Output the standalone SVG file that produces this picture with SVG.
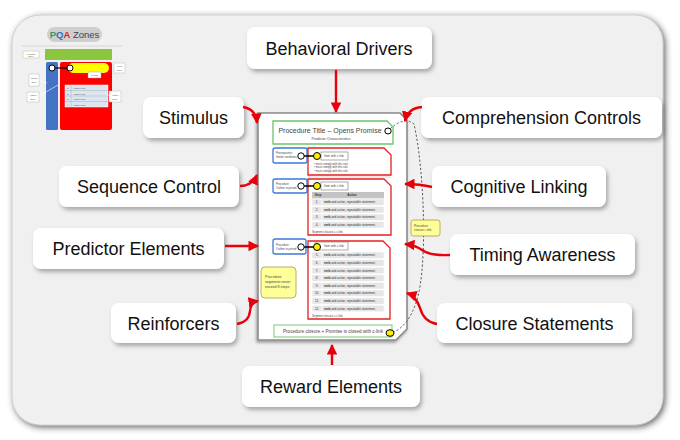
<svg xmlns="http://www.w3.org/2000/svg" width="680" height="440" viewBox="0 0 680 440">
<defs>
<filter id="panelShadow" x="-5%" y="-5%" width="110%" height="112%">
<feGaussianBlur in="SourceAlpha" stdDeviation="3"/>
<feOffset dx="2" dy="2" result="b"/>
<feFlood flood-color="#333" flood-opacity="0.75"/>
<feComposite in2="b" operator="in"/>
<feMerge><feMergeNode/><feMergeNode in="SourceGraphic"/></feMerge>
</filter>
<filter id="boxShadow" x="-10%" y="-20%" width="125%" height="150%">
<feDropShadow dx="2" dy="3" stdDeviation="2" flood-color="#000" flood-opacity="0.3"/>
</filter>
<filter id="docShadow" x="-5%" y="-5%" width="110%" height="110%">
<feDropShadow dx="-1" dy="2" stdDeviation="1.5" flood-color="#000" flood-opacity="0.35"/>
</filter>
<marker id="arrow" viewBox="0 0 10 10" refX="9" refY="5" markerWidth="4.4" markerHeight="4.4" orient="auto" markerUnits="strokeWidth">
<path d="M0,0 L10,5 L0,10 Z" fill="#e8000b"/>
</marker>
<style>
.lbl rect{fill:#fff;filter:url(#boxShadow)}
.lbl text{font-family:"Liberation Sans",Arial,sans-serif;font-size:18px;fill:#111;text-anchor:middle}
.arr{fill:none;stroke:#e8000b;stroke-width:2.4;marker-end:url(#arrow)}
.tiny{font-family:"Liberation Sans",Arial,sans-serif;fill:#444}
.row{fill:#e6e6e6;stroke:#fff;stroke-width:0.6}
.num{font-family:"Liberation Sans",Arial,sans-serif;font-size:3px;fill:#333;text-anchor:middle}
.act{font-family:"Liberation Sans",Arial,sans-serif;font-size:3px;fill:#333}
.red{fill:#fff;stroke:#e32020;stroke-width:1.3}
.blue{fill:#fff;stroke:#3c78d8;stroke-width:1.3}
.wc{fill:#fff;stroke:#000;stroke-width:1}
.yc{fill:#ffee00;stroke:#000;stroke-width:1}
.item{fill:#fff;stroke:#888;stroke-width:0.7}
.sticky{fill:#ffff99;stroke:#a89a40;stroke-width:0.8}
</style>
</defs>
<rect width="680" height="440" fill="#fff"/>
<rect id="panel" x="12" y="15" width="651" height="410" rx="28" fill="#f0f0f0" stroke="#c8c8c8" stroke-width="0.8" filter="url(#panelShadow)"/>

<!-- Thumbnail: PQA Zones -->
<g id="thumbnail">
<rect x="47" y="27" width="55" height="15" rx="7.5" fill="#cfcfcf"/>
<text x="74.5" y="38" font-family="Liberation Sans, Arial, sans-serif" font-size="9.5" text-anchor="middle" fill="#444"><tspan fill="#2e9e5a" font-weight="bold">P</tspan><tspan fill="#2f6fc0" font-weight="bold">Q</tspan><tspan fill="#e02020" font-weight="bold">A</tspan> Zones</text>
<line x1="22" y1="46" x2="122" y2="46" stroke="#d0d0d0" stroke-width="0.8"/>
<rect x="45" y="49" width="67" height="11" fill="#8cc63f"/>
<rect x="46" y="62" width="12" height="68" rx="1.5" fill="#4472c4"/>
<rect x="60" y="62" width="52" height="68" rx="2" fill="#ff0000"/>
<rect x="68" y="63" width="41" height="10" rx="5" fill="#ffff00"/>
<line x1="52" y1="68" x2="70" y2="68" stroke="#000" stroke-width="1.2"/>
<circle cx="52" cy="68" r="3" class="wc"/>
<circle cx="70" cy="68" r="3" class="wc"/>
<rect x="88" y="72" width="13" height="6" fill="#fff" stroke="#999" stroke-width="0.4"/>
<text x="94.5" y="76.3" class="tiny" font-size="2.4" text-anchor="middle">C-Link</text>
<g>
<rect x="65" y="85" width="43" height="22" fill="#dde6f0" stroke="#fff" stroke-width="0.5"/>
<line x1="65" y1="90.5" x2="108" y2="90.5" stroke="#8aa" stroke-width="0.4"/>
<line x1="65" y1="96" x2="108" y2="96" stroke="#8aa" stroke-width="0.4"/>
<line x1="65" y1="101.5" x2="108" y2="101.5" stroke="#8aa" stroke-width="0.4"/>
<line x1="71" y1="85" x2="71" y2="107" stroke="#8aa" stroke-width="0.4"/>
<text x="68" y="89" class="tiny" font-size="2.4" text-anchor="middle">1.</text>
<text x="68" y="94.5" class="tiny" font-size="2.4" text-anchor="middle">2.</text>
<text x="68" y="100" class="tiny" font-size="2.4" text-anchor="middle">3.</text>
<text x="68" y="105.5" class="tiny" font-size="2.4" text-anchor="middle">4.</text>
<text x="73" y="89" class="tiny" font-size="2.4">Action verb</text>
<text x="73" y="94.5" class="tiny" font-size="2.4">Action verb</text>
<text x="73" y="100" class="tiny" font-size="2.4">Action verb</text>
<text x="73" y="105.5" class="tiny" font-size="2.4">Action verb</text>
</g>
<line x1="39" y1="54" x2="45" y2="54" stroke="#fff" stroke-width="0.6"/>
<line x1="39" y1="80" x2="47" y2="83" stroke="#fff" stroke-width="0.6"/>
<line x1="39" y1="96" x2="58" y2="85" stroke="#fff" stroke-width="0.6"/>
<line x1="106" y1="94" x2="109" y2="96" stroke="#fff" stroke-width="0.6"/>
<rect x="23" y="51" width="16" height="7" fill="#fff" stroke="#aaa" stroke-width="0.4"/>
<text x="31" y="54.5" class="tiny" font-size="2.2" text-anchor="middle"><tspan fill="#2e9e5a">P</tspan>redictor</text>
<text x="31" y="57.2" class="tiny" font-size="2.2" text-anchor="middle">Zone</text>
<rect x="29" y="74" width="10" height="12" fill="#fff" stroke="#aaa" stroke-width="0.4"/>
<text x="34" y="79" class="tiny" font-size="2.2" text-anchor="middle"><tspan fill="#2f6fc0">O</tspan>pens</text>
<text x="34" y="83" class="tiny" font-size="2.2" text-anchor="middle">Zone</text>
<rect x="27" y="92" width="12" height="10" fill="#fff" stroke="#aaa" stroke-width="0.4"/>
<text x="33" y="96" class="tiny" font-size="2.2" text-anchor="middle"><tspan fill="#e02020">A</tspan>nswer</text>
<text x="33" y="100" class="tiny" font-size="2.2" text-anchor="middle">Zone</text>
<rect x="114" y="63" width="11" height="10" fill="#fff" stroke="#aaa" stroke-width="0.4"/>
<text x="119.5" y="67" class="tiny" font-size="2.2" text-anchor="middle"><tspan fill="#e07020">C</tspan>lose</text>
<text x="119.5" y="71" class="tiny" font-size="2.2" text-anchor="middle">Zone</text>
<rect x="109" y="91" width="12" height="11" fill="#fff" stroke="#aaa" stroke-width="0.4"/>
<text x="115" y="95.5" class="tiny" font-size="2.2" text-anchor="middle"><tspan fill="#2f9fe0">M</tspan>otion</text>
<text x="115" y="99.5" class="tiny" font-size="2.2" text-anchor="middle">Zone</text>
</g>

<!-- Procedure document -->
<g id="document">
<path d="M258,113 H400 L407,120 V329 L396,340 H258 Z" fill="#fff" stroke="#8a8a8a" stroke-width="1.6" filter="url(#docShadow)"/>
<path d="M273,121 H387 L393,127 V144 H273 Z" fill="#fff" stroke="#6cc46c" stroke-width="1.3"/>
<text x="330" y="133" class="tiny" font-size="7" text-anchor="middle" fill="#444">Procedure Title – Opens Promise</text>
<text x="331" y="140" class="tiny" font-size="3.6" text-anchor="middle" fill="#555">Predictor Characteristics</text>
<ellipse cx="388" cy="131" rx="3.2" ry="3" class="wc"/>

<!-- segment 1 -->
<rect x="273" y="148" width="34" height="15" rx="2" class="blue"/>
<text x="276" y="154" class="tiny" font-size="2.8">Prerequisites</text>
<text x="276" y="158" class="tiny" font-size="2.8">Intake conditions</text>
<path d="M308,148 H384 L391,155 V175 H308 Z" class="red"/>
<rect x="321" y="152" width="27" height="8" class="item"/>
<text x="324" y="157.3" class="tiny" font-size="3">Item with c-link</text>
<text x="314" y="164.5" class="tiny" font-size="2.8">•  must comply with this rule</text>
<text x="314" y="168" class="tiny" font-size="2.8">•  must comply with this rule</text>
<text x="314" y="171.5" class="tiny" font-size="2.8">•  must comply with this rule</text>
<line x1="304" y1="156" x2="314" y2="156" stroke="#000" stroke-width="1.5"/>
<circle cx="301" cy="156" r="3.2" class="wc"/>
<circle cx="317" cy="156" r="3.5" class="yc"/>
<line x1="308" y1="177" x2="391" y2="177" stroke="#bbb" stroke-width="0.6"/>

<!-- segment 2 -->
<rect x="273" y="179" width="34" height="14" rx="2" class="blue"/>
<text x="276" y="185" class="tiny" font-size="2.8">Procedure</text>
<text x="276" y="189" class="tiny" font-size="2.8">Outline in period</text>
<path d="M308,179 H384 L391,186 V235 H308 Z" class="red"/>
<rect x="321" y="182" width="27" height="8" class="item"/>
<text x="324" y="187.3" class="tiny" font-size="3">Item with c-link</text>
<line x1="304" y1="186" x2="314" y2="186" stroke="#000" stroke-width="1.5"/>
<circle cx="301" cy="186" r="3.2" class="wc"/>
<circle cx="317" cy="186" r="3.5" class="yc"/>
<rect x="312" y="192" width="72" height="6.5" fill="#c4c4c4"/>
<text x="318" y="196.4" class="num" font-weight="bold">Step</text>
<text x="352" y="196.4" class="num" font-weight="bold">Action</text>
<g>
<rect x="312" y="199" width="10" height="6.5" class="row"/><rect x="322" y="199" width="62" height="6.5" class="row"/>
<rect x="312" y="206.5" width="10" height="6.5" class="row"/><rect x="322" y="206.5" width="62" height="6.5" class="row"/>
<rect x="312" y="214" width="10" height="6.5" class="row"/><rect x="322" y="214" width="62" height="6.5" class="row"/>
<rect x="312" y="221.5" width="10" height="6.5" class="row"/><rect x="322" y="221.5" width="62" height="6.5" class="row"/>
<text x="317" y="203.3" class="num">1.</text><text x="324" y="203.3" class="act"><tspan font-weight="bold">verb</tspan> and action, repeatable statement.</text>
<text x="317" y="210.8" class="num">2.</text><text x="324" y="210.8" class="act"><tspan font-weight="bold">verb</tspan> and action, repeatable statement.</text>
<text x="317" y="218.3" class="num">3.</text><text x="324" y="218.3" class="act"><tspan font-weight="bold">verb</tspan> and action, repeatable statement.</text>
<text x="317" y="225.8" class="num">4.</text><text x="324" y="225.8" class="act"><tspan font-weight="bold">verb</tspan> and action, repeatable statement.</text>
</g>
<text x="312" y="233" class="tiny" font-size="2.8">Segment closure = c-link</text>

<!-- segment 3 -->
<rect x="273" y="239" width="33" height="15" rx="2" class="blue"/>
<text x="276" y="245.5" class="tiny" font-size="2.8">Procedure</text>
<text x="276" y="249.5" class="tiny" font-size="2.8">Outline in period</text>
<path d="M308,241 H383 L390,248 V319 H308 Z" class="red"/>
<rect x="315" y="242" width="33" height="8" class="item"/>
<text x="324" y="247.3" class="tiny" font-size="3">Item with c-link</text>
<line x1="304" y1="247" x2="314" y2="247" stroke="#000" stroke-width="1.5"/>
<circle cx="301" cy="247" r="3.2" class="wc"/>
<circle cx="317" cy="247" r="3.5" class="yc"/>
<g>
<rect x="312" y="252" width="10" height="6.6" class="row"/><rect x="322" y="252" width="62" height="6.6" class="row"/>
<rect x="312" y="259.6" width="10" height="6.6" class="row"/><rect x="322" y="259.6" width="62" height="6.6" class="row"/>
<rect x="312" y="267.2" width="10" height="6.6" class="row"/><rect x="322" y="267.2" width="62" height="6.6" class="row"/>
<rect x="312" y="274.8" width="10" height="6.6" class="row"/><rect x="322" y="274.8" width="62" height="6.6" class="row"/>
<rect x="312" y="282.4" width="10" height="6.6" class="row"/><rect x="322" y="282.4" width="62" height="6.6" class="row"/>
<rect x="312" y="290" width="10" height="6.6" class="row"/><rect x="322" y="290" width="62" height="6.6" class="row"/>
<rect x="312" y="297.6" width="10" height="6.6" class="row"/><rect x="322" y="297.6" width="62" height="6.6" class="row"/>
<rect x="312" y="305.2" width="10" height="6.6" class="row"/><rect x="322" y="305.2" width="62" height="6.6" class="row"/>
<text x="317" y="256.4" class="num">5.</text><text x="324" y="256.4" class="act"><tspan font-weight="bold">verb</tspan> and action, repeatable statement.</text>
<text x="317" y="264" class="num">6.</text><text x="324" y="264" class="act"><tspan font-weight="bold">verb</tspan> and action, repeatable statement.</text>
<text x="317" y="271.6" class="num">7.</text><text x="324" y="271.6" class="act"><tspan font-weight="bold">verb</tspan> and action, repeatable statement.</text>
<text x="317" y="279.2" class="num">8.</text><text x="324" y="279.2" class="act"><tspan font-weight="bold">verb</tspan> and action, repeatable statement.</text>
<text x="317" y="286.8" class="num">9.</text><text x="324" y="286.8" class="act"><tspan font-weight="bold">verb</tspan> and action, repeatable statement.</text>
<text x="317" y="294.4" class="num">10.</text><text x="324" y="294.4" class="act"><tspan font-weight="bold">verb</tspan> and action, repeatable statement.</text>
<text x="317" y="302" class="num">11.</text><text x="324" y="302" class="act"><tspan font-weight="bold">verb</tspan> and action, repeatable statement.</text>
<text x="317" y="309.6" class="num">12.</text><text x="324" y="309.6" class="act"><tspan font-weight="bold">verb</tspan> and action, repeatable statement.</text>
</g>
<text x="312" y="317" class="tiny" font-size="2.8">Segment closure = c-link</text>

<rect x="261" y="267" width="35" height="31" rx="4" class="sticky"/>
<text x="265" y="278" class="tiny" font-size="3.6" fill="#333">Procedure</text>
<text x="265" y="283" class="tiny" font-size="3.6" fill="#333">segments never</text>
<text x="265" y="288" class="tiny" font-size="3.6" fill="#333">exceed 8 steps</text>

<rect x="274" y="325" width="118" height="12" fill="#fff" stroke="#8fd08f" stroke-width="1.2"/>
<text x="333" y="333" class="tiny" font-size="4.6" text-anchor="middle" fill="#444">Procedure closure + Promise is closed with c-link</text>

<path d="M390,129 Q404,116 414,124 C424,168 428,262 417,300 Q409,325 394,332" fill="none" stroke="#555" stroke-width="1" stroke-dasharray="2.2,2"/>
<ellipse cx="390" cy="333" rx="4" ry="3.3" class="yc"/>

<rect x="411" y="220" width="29" height="16" rx="2.5" class="sticky"/>
<text x="414" y="226.5" class="tiny" font-size="3" fill="#333">Procedure</text>
<text x="414" y="231" class="tiny" font-size="3" fill="#333">closure c-link</text>
</g>

<!-- Labels -->
<g id="behavioral-drivers" class="lbl"><rect x="247" y="27" width="185" height="42" rx="8"/><text x="339" y="55">Behavioral Drivers</text></g>
<g id="stimulus" class="lbl"><rect x="143" y="97" width="101" height="41" rx="8"/><text x="193.5" y="124">Stimulus</text></g>
<g id="sequence-control" class="lbl"><rect x="59" y="166" width="180" height="41" rx="8"/><text x="149" y="193">Sequence Control</text></g>
<g id="predictor-elements" class="lbl"><rect x="33" y="228" width="191" height="41" rx="8"/><text x="128.5" y="255">Predictor Elements</text></g>
<g id="reinforcers" class="lbl"><rect x="111" y="303" width="125" height="40" rx="8"/><text x="173.5" y="329.5">Reinforcers</text></g>
<g id="reward-elements" class="lbl"><rect x="242" y="366" width="178" height="41" rx="8"/><text x="331" y="393">Reward Elements</text></g>
<g id="comprehension-controls" class="lbl"><rect x="421" y="97" width="241" height="41" rx="8"/><text x="541.5" y="124">Comprehension Controls</text></g>
<g id="cognitive-linking" class="lbl"><rect x="432" y="166" width="174" height="41" rx="8"/><text x="519" y="193">Cognitive Linking</text></g>
<g id="timing-awareness" class="lbl"><rect x="450" y="234" width="185" height="41" rx="8"/><text x="542.5" y="261">Timing Awareness</text></g>
<g id="closure-statements" class="lbl"><rect x="437" y="303" width="195" height="40" rx="8"/><text x="534.5" y="329.5">Closure Statements</text></g>

<!-- Connectors -->
<g id="connectors">
<path class="arr" d="M336,70 V112"/>
<path class="arr" d="M243,107 Q256,109 257,123"/>
<path class="arr" d="M240,186 Q252,186 257,175"/>
<path class="arr" d="M225,246 H258"/>
<path class="arr" d="M237,324 Q249,322 250,311 Q251,302 258,301"/>
<path class="arr" d="M332,365 V345"/>
<path class="arr" d="M422,107 Q408,108 405,121"/>
<path class="arr" d="M432,187 Q420,184 405,184"/>
<path class="arr" d="M450,255 Q430,256 422,250 Q415,245 405,244"/>
<path class="arr" d="M437,324 Q424,322 420,308 Q416,296 407,293"/>
</g>
</svg>
